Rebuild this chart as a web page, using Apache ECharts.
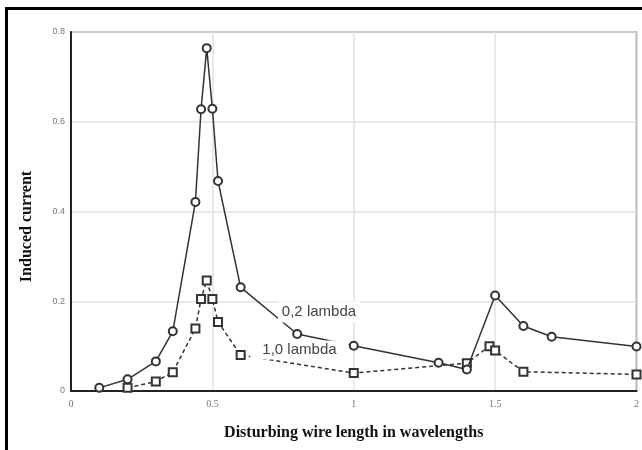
<!DOCTYPE html>
<html>
<head>
<meta charset="UTF-8">
<title>Induced current</title>
<script src="https://cdn.jsdelivr.net/npm/echarts@6/dist/echarts.min.js"></script>
<style>
  html, body { margin: 0; padding: 0; background: #fff; }
  #main { width: 642px; height: 450px; }
</style>
</head>
<body>
<div id="main"></div>
<script>
// 0,2 lambda (solid, circles)
var xShort = [0.1, 0.2, 0.3, 0.36, 0.44, 0.46, 0.48, 0.5, 0.52, 0.6, 0.8, 1.0, 1.3, 1.4, 1.5, 1.6, 1.7, 2.0];
var yShort = [0.007, 0.026, 0.066, 0.133, 0.421, 0.628, 0.764, 0.629, 0.468, 0.231, 0.127, 0.101, 0.063, 0.048, 0.213, 0.145, 0.121, 0.099];
// 1,0 lambda (dashed, squares)
var xLong = [0.2, 0.3, 0.36, 0.44, 0.46, 0.48, 0.5, 0.52, 0.6, 1.0, 1.4, 1.48, 1.5, 1.6, 2.0];
var yLong = [0.007, 0.021, 0.042, 0.139, 0.205, 0.246, 0.205, 0.154, 0.08, 0.04, 0.062, 0.1, 0.09, 0.043, 0.037];

var xTicks = [0, 0.5, 1, 1.5, 2];
var yTicks = [0, 0.2, 0.4, 0.6, 0.8];

function pairs(xs, ys) {
  var out = [];
  for (var i = 0; i < xs.length; i++) out.push([xs[i], ys[i]]);
  return out;
}

var chart = echarts.init(document.getElementById('main'));
chart.setOption({
  animation: false,
  backgroundColor: '#fff',
  grid: {
    left: 71, top: 32, right: 4, bottom: 59,
    show: true, borderColor: '#5a5a5a', borderWidth: 1.5
  },
  xAxis: {
    type: 'value', min: xTicks[0], max: xTicks[xTicks.length - 1], interval: 0.5,
    name: 'Disturbing wire length in wavelengths',
    nameLocation: 'middle', nameGap: 34,
    nameTextStyle: { fontFamily: 'Liberation Serif', fontWeight: 'bold', fontSize: 16, color: '#111' },
    axisLine: { lineStyle: { color: '#222', width: 2 } },
    axisTick: { show: false },
    axisLabel: { fontFamily: 'Liberation Serif', fontSize: 10, color: '#777', margin: 8 },
    splitLine: { show: true, lineStyle: { color: '#e2e2e2', width: 1.5 } }
  },
  yAxis: {
    type: 'value', min: yTicks[0], max: yTicks[yTicks.length - 1], interval: 0.2,
    name: 'Induced current',
    nameLocation: 'middle', nameGap: 36,
    nameTextStyle: { fontFamily: 'Liberation Serif', fontWeight: 'bold', fontSize: 16, color: '#111', padding: [0, 30, 0, 0] },
    axisLine: { show: true, lineStyle: { color: '#222', width: 2 } },
    axisTick: { show: false },
    axisLabel: { fontFamily: 'Liberation Sans', fontSize: 9, color: '#777', margin: 6 },
    splitLine: { show: true, lineStyle: { color: '#e2e2e2', width: 1.5 } }
  },
  graphic: [{
    type: 'rect', left: 4, top: 6, z: 100,
    shape: { width: 660, height: 470 },
    style: { fill: 'none', stroke: '#000', lineWidth: 3 }
  }],
  series: [{
    name: '0,2 lambda',
    type: 'line',
    data: pairs(xShort, yShort),
    symbol: 'emptyCircle', symbolSize: 8,
    lineStyle: { color: '#333', width: 1.5 },
    itemStyle: { color: '#333', borderWidth: 1.2 },
    markPoint: {
      symbol: 'rect', symbolSize: 1, itemStyle: { color: 'rgba(0,0,0,0)' },
      data: [{ coord: [0.877, 0.176] }],
      label: {
        show: true, formatter: '0,2 lambda', position: 'inside',
        fontFamily: 'Liberation Sans', fontSize: 15, color: '#444',
        backgroundColor: '#fff', padding: [3, 4]
      }
    },
    z: 3
  }, {
    name: '1,0 lambda',
    type: 'line',
    data: pairs(xLong, yLong),
    symbol: 'emptyRect', symbolSize: 8,
    lineStyle: { color: '#333', width: 1.5, type: [4, 3] },
    itemStyle: { color: '#333', borderWidth: 1.2 },
    markPoint: {
      symbol: 'rect', symbolSize: 1, itemStyle: { color: 'rgba(0,0,0,0)' },
      data: [{ coord: [0.808, 0.0913] }],
      label: {
        show: true, formatter: '1,0 lambda', position: 'inside',
        fontFamily: 'Liberation Sans', fontSize: 15, color: '#444',
        backgroundColor: '#fff', padding: [2, 12]
      }
    },
    z: 2
  }]
});
</script>
</body>
</html>
